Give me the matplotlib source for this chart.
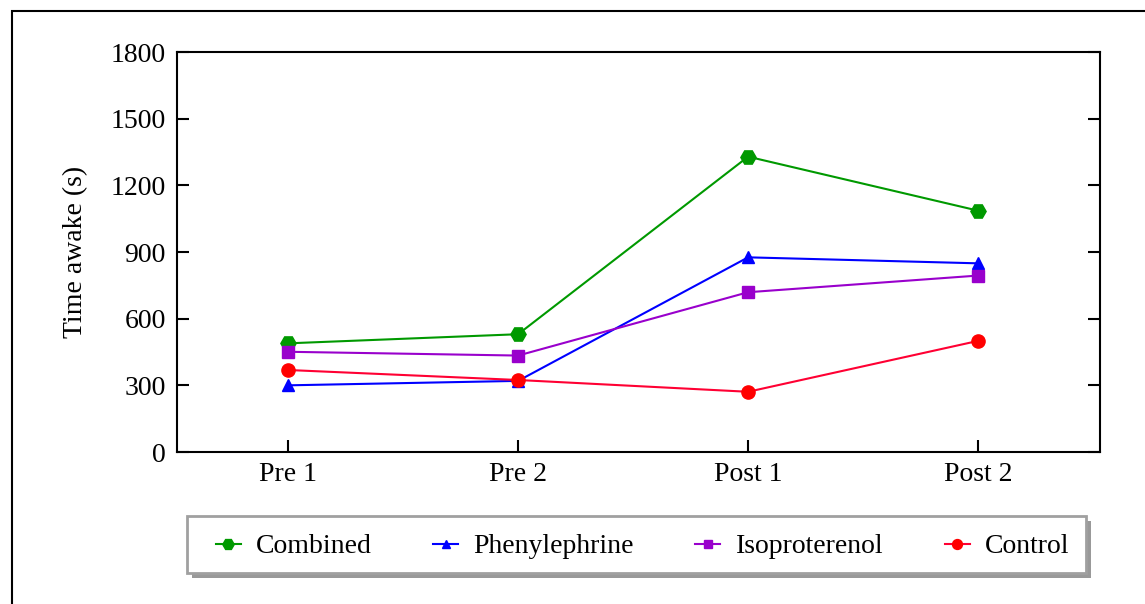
import matplotlib
matplotlib.use("Agg")
import matplotlib.pyplot as plt
from matplotlib.patches import Rectangle

categories = ["Pre 1", "Pre 2", "Post 1", "Post 2"]
combined = [489, 530, 1329, 1086]
phenylephrine = [300, 320, 876, 849]
isoproterenol = [451, 434, 719, 794]
control = [369, 324, 271, 500]
yticks = [0, 300, 600, 900, 1200, 1500, 1800]

plt.rcParams['font.family'] = ['Liberation Serif', 'DejaVu Serif']
FS = 20
W, H = 1145, 604

fig = plt.figure(figsize=(11.45, 6.04), dpi=100)
ax = fig.add_axes([177/W, 1-452/H, 923/W, 400/H])

x = list(range(len(categories)))
ax.plot(x, combined, color='#009900', lw=1.5, marker='H', ms=11, mfc='#009900', mec='#009900', label='Combined')
ax.plot(x, phenylephrine, color='#0000ff', lw=1.5, marker='^', ms=8, mfc='#0000ff', mec='#0000ff', label='Phenylephrine')
ax.plot(x, isoproterenol, color='#9900cc', lw=1.5, marker='s', ms=8, mfc='#9900cc', mec='#9900cc', label='Isoproterenol')
ax.plot(x, control, color='#ff0033', lw=1.5, marker='o', ms=9.5, mfc='#ff0000', mec='#ff0000', label='Control')

ax.set_xlim(-0.483, 3.53)
ax.set_ylim(0, 1800)
ax.set_xticks(x)
ax.set_xticklabels(categories, fontsize=FS)
ax.set_yticks(yticks)
ax.set_yticklabels([str(v) for v in yticks], fontsize=FS)
ax.tick_params(axis='y', direction='in', length=8.5, width=1.5, right=True, pad=8)
ax.tick_params(axis='x', direction='in', length=8.5, width=1.5, top=False, pad=7)
for s in ax.spines.values():
    s.set_linewidth(1.5)
ax.set_ylabel("Time awake (s)", fontsize=FS, labelpad=16)

# legend frame with shadow (drawn as figure patches)
lx0, lx1, ly0, ly1 = 187, 1086, 516, 573
shadow = Rectangle(((lx0 + 5)/W, 1 - (ly1 + 5)/H), (lx1 - lx0)/W, (ly1 - ly0)/H,
                   transform=fig.transFigure, facecolor='#999999', edgecolor='none', zorder=1)
frame = Rectangle((lx0/W, 1 - ly1/H), (lx1 - lx0)/W, (ly1 - ly0)/H,
                  transform=fig.transFigure, facecolor='white', edgecolor='#a0a0a0', lw=2, zorder=2)
fig.patches.extend([shadow, frame])

leg = fig.legend(loc='center',
                 bbox_to_anchor=((lx0 + 12)/W, 1 - (ly1 + 2)/H, (lx1 - lx0 - 12)/W, (ly1 - ly0)/H),
                 mode='expand', ncol=4, fontsize=FS, frameon=False,
                 handlelength=0.9, handletextpad=0.55, markerscale=0.75,
                 borderaxespad=0, borderpad=0.6)
leg.set_zorder(3)

border = Rectangle((11.5/W, -0.2), 1.5, 1 - 11.5/H + 0.2, transform=fig.transFigure,
                   fill=False, edgecolor='black', lw=1.5, clip_on=False)
fig.patches.append(border)

fig.savefig("out.png", dpi=100)
